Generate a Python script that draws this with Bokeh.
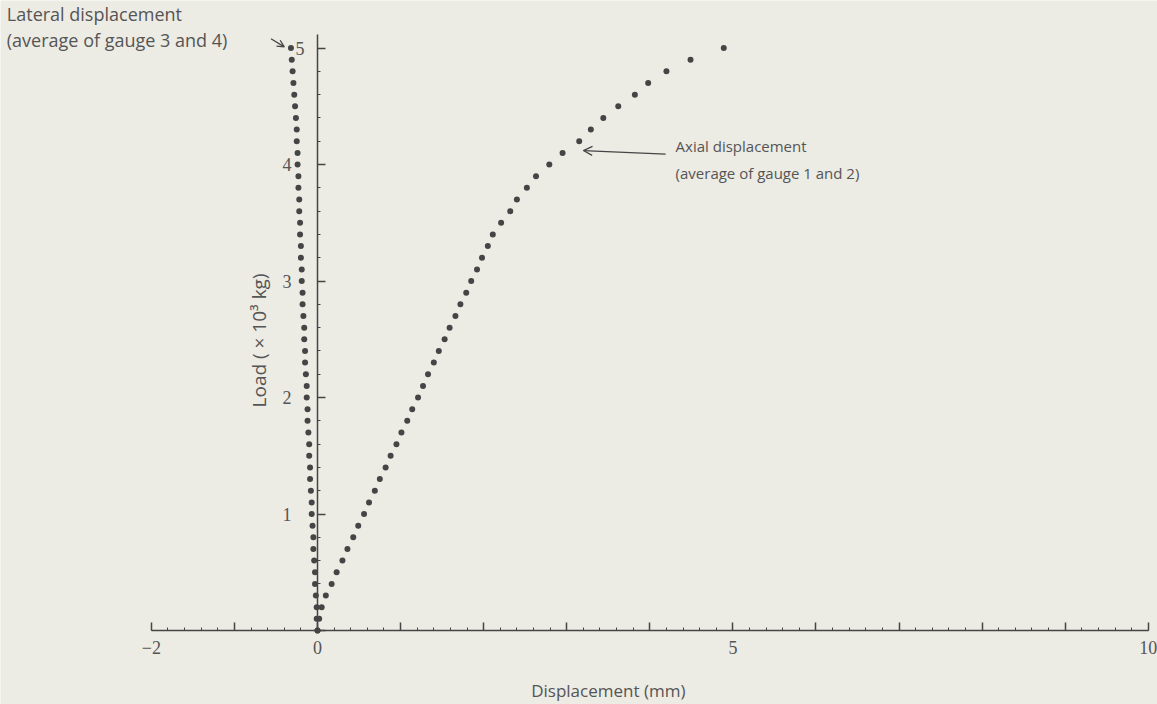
from bokeh.plotting import figure
from bokeh.models import (Range1d, LinearAxis, SingleIntervalTicker, FixedTicker, Label,
                          Arrow, OpenHead, ColumnDataSource)
from bokeh.embed import file_html
from bokeh.resources import INLINE

# ---- data ----
load = [0.0, 0.1, 0.2, 0.3, 0.4, 0.5, 0.6, 0.7, 0.8, 0.9,
        1.0, 1.1, 1.2, 1.3, 1.4, 1.5, 1.6, 1.7, 1.8, 1.9,
        2.0, 2.1, 2.2, 2.3, 2.4, 2.5, 2.6, 2.7, 2.8, 2.9,
        3.0, 3.1, 3.2, 3.3, 3.4, 3.5, 3.6, 3.7, 3.8, 3.9,
        4.0, 4.1, 4.2, 4.3, 4.4, 4.5, 4.6, 4.7, 4.8, 4.9, 5.0]
axial_disp = [0.00, 0.02, 0.05, 0.10, 0.17, 0.23, 0.30, 0.36, 0.43, 0.49,
              0.56, 0.62, 0.69, 0.75, 0.82, 0.88, 0.95, 1.01, 1.08, 1.14,
              1.21, 1.27, 1.33, 1.40, 1.46, 1.53, 1.59, 1.66, 1.72, 1.79,
              1.85, 1.92, 1.98, 2.05, 2.11, 2.21, 2.32, 2.40, 2.52, 2.63,
              2.79, 2.95, 3.15, 3.29, 3.44, 3.62, 3.82, 3.98, 4.20, 4.49, 4.89]
lateral_disp = [0.00, -0.01, -0.01, -0.02, -0.03, -0.03, -0.04, -0.05, -0.05, -0.06,
                -0.07, -0.07, -0.08, -0.09, -0.09, -0.10, -0.10, -0.11, -0.12, -0.12,
                -0.13, -0.13, -0.14, -0.15, -0.15, -0.16, -0.16, -0.17, -0.18, -0.18,
                -0.19, -0.19, -0.20, -0.20, -0.21, -0.21, -0.22, -0.22, -0.23, -0.23,
                -0.24, -0.24, -0.25, -0.25, -0.26, -0.27, -0.28, -0.29, -0.30, -0.31, -0.32]
x_tick_labels = {-2: "\u22122", 0: "0", 5: "5", 10: "10"}
y_tick_labels = {1: "1", 2: "2", 3: "3", 4: "4"}
y_top_label = {5: "5"}

BG = "#ecebe4"
INK = "#454545"
TXT = "#555555"

W, H = 1157, 704
p = figure(width=W, height=H, output_backend="svg", toolbar_location=None,
           x_range=Range1d(-3.816, 10.111), y_range=Range1d(-0.635, 5.408),
           x_axis_location=None, y_axis_location=None, min_border=0,
           background_fill_color=BG, border_fill_color=BG,
           outline_line_color=None)
p.grid.visible = False

# ---- axes drawn through the origin ----
xax = LinearAxis(fixed_location=0, ticker=SingleIntervalTicker(interval=1, num_minor_ticks=5),
                 bounds=(-2, 10))
xax.major_label_overrides = {k: x_tick_labels.get(k, "") for k in range(-2, 11)}
xax.major_tick_in = 8
xax.major_tick_out = 0
xax.minor_tick_in = 3
xax.minor_tick_out = 0
xax.major_label_standoff = 10
p.add_layout(xax, "below")

yax = LinearAxis(fixed_location=0, ticker=SingleIntervalTicker(interval=1, num_minor_ticks=5),
                 bounds=(0, 5.12))
yax.major_label_overrides = {k: y_tick_labels.get(k, "") for k in range(0, 6)}
yax.major_tick_in = 8
yax.major_tick_out = 0
yax.minor_tick_in = 3
yax.minor_tick_out = 0
yax.major_label_standoff = 26
yax.major_label_orientation = "horizontal"
p.add_layout(yax, "left")

# the "5" label sits close to the axis, right of the last lateral point
yax5 = LinearAxis(fixed_location=0, ticker=FixedTicker(ticks=list(y_top_label.keys())))
yax5.major_label_overrides = y_top_label
yax5.axis_line_color = None
yax5.major_tick_line_color = None
yax5.minor_tick_line_color = None
yax5.major_label_standoff = 7
yax5.major_label_orientation = "horizontal"
p.add_layout(yax5, "left")

for ax in (xax, yax):
    ax.axis_line_color = INK
    ax.axis_line_width = 1.5
    ax.major_tick_line_color = INK
    ax.major_tick_line_width = 1.5
    ax.minor_tick_line_color = INK
    ax.minor_tick_line_width = 1
for ax in (xax, yax, yax5):
    ax.major_label_text_font = "Liberation Serif"
    ax.major_label_text_font_size = "18px"
    ax.major_label_text_color = TXT

# ---- data points ----
src_ax = ColumnDataSource(dict(x=axial_disp, y=load))
src_lat = ColumnDataSource(dict(x=lateral_disp, y=load))
p.scatter("x", "y", source=src_lat, size=6, fill_color=INK, line_color=None)
p.scatter("x", "y", source=src_ax, size=6, fill_color=INK, line_color=None)

# ---- titles & annotations ----
FONT = "Open Sans"
p.add_layout(Label(x=3.50, y=-0.515, text="Displacement (mm)", text_align="center",
                   text_baseline="middle", text_font=FONT, text_font_size="17px",
                   text_color=TXT))
p.add_layout(Label(x=-0.71, y=2.49, text="Load ( \u00d7 10\u00b3 kg)", angle=1.5708,
                   text_align="center", text_baseline="middle", text_font=FONT,
                   text_font_size="19px", text_color=TXT))

p.add_layout(Label(x=-3.74, y=5.29, text="Lateral displacement", text_align="left",
                   text_baseline="middle", text_font=FONT, text_font_size="18px",
                   text_color=TXT))
p.add_layout(Label(x=-3.74, y=5.07, text="(average of gauge 3 and 4)", text_align="left",
                   text_baseline="middle", text_font=FONT, text_font_size="18px",
                   text_color=TXT))
p.add_layout(Arrow(x_start=-0.56, y_start=5.08, x_end=-0.40, y_end=5.01,
                   line_color=INK, line_width=1.3,
                   end=OpenHead(size=7, line_color=INK, line_width=1.3)))

p.add_layout(Label(x=4.31, y=4.16, text="Axial displacement", text_align="left",
                   text_baseline="middle", text_font=FONT, text_font_size="15px",
                   text_color=TXT))
p.add_layout(Label(x=4.31, y=3.93, text="(average of gauge 1 and 2)", text_align="left",
                   text_baseline="middle", text_font=FONT, text_font_size="15px",
                   text_color=TXT))
p.add_layout(Arrow(x_start=4.19, y_start=4.09, x_end=3.20, y_end=4.12,
                   line_color=INK, line_width=1.3,
                   end=OpenHead(size=9, line_color=INK, line_width=1.3)))

open("out.html", "w").write(file_html(p, INLINE))
